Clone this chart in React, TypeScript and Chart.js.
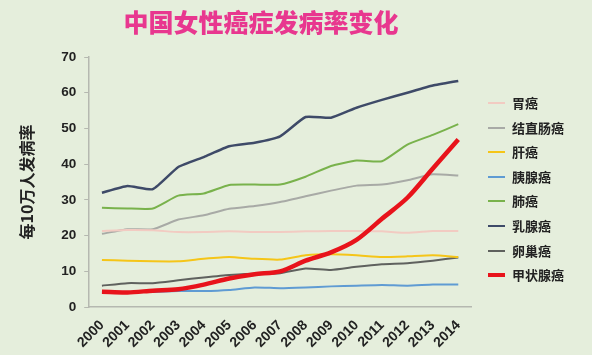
import React, { useEffect, useRef } from "react";
import { Chart, registerables } from "chart.js";

Chart.register(...registerables);

const years = ["2000","2001","2002","2003","2004","2005","2006","2007","2008","2009","2010","2011","2012","2013","2014"];
const yTicks = [0, 10, 20, 30, 40, 50, 60, 70];

const stomach = [21.3, 21.6, 21.5, 21.0, 21.0, 21.2, 21.0, 21.0, 21.2, 21.3, 21.3, 21.2, 20.8, 21.3, 21.3];
const colorectal = [20.5, 21.8, 21.8, 24.5, 25.7, 27.5, 28.3, 29.4, 31.0, 32.6, 34.0, 34.3, 35.5, 37.2, 36.8];
const liver = [13.2, 13.0, 12.8, 12.8, 13.5, 14.0, 13.5, 13.3, 14.5, 14.8, 14.5, 14.0, 14.2, 14.5, 14.0];
const pancreas = [4.2, 4.2, 4.2, 4.5, 4.5, 4.8, 5.5, 5.3, 5.5, 5.8, 6.0, 6.2, 6.0, 6.3, 6.3];
const lung = [27.8, 27.6, 27.6, 31.2, 31.8, 34.2, 34.3, 34.3, 36.5, 39.5, 41.0, 40.8, 45.5, 48.2, 51.2];
const breast = [32.0, 33.9, 33.0, 39.2, 42.0, 45.0, 46.0, 47.8, 53.2, 53.0, 55.8, 58.0, 60.0, 62.0, 63.3];
const ovary = [6.0, 6.7, 6.7, 7.5, 8.3, 9.0, 9.3, 9.5, 10.8, 10.4, 11.3, 12.0, 12.3, 13.0, 13.9];
const thyroid = [4.3, 4.1, 4.6, 5.0, 6.3, 8.0, 9.2, 10.0, 13.0, 15.3, 18.8, 24.7, 30.6, 38.8, 46.9];

const seriesNames = ["胃癌", "结直肠癌", "肝癌", "胰腺癌", "肺癌", "乳腺癌", "卵巢癌", "甲状腺癌"];
const seriesData = [stomach, colorectal, liver, pancreas, lung, breast, ovary, thyroid];
const seriesColors = ["#f2cbc2", "#a8aaa6", "#f5c518", "#5f9bd3", "#79b24c", "#3e4a68", "#5f615e", "#e8131b"];
const seriesWidths = [2, 2, 2, 2, 2, 2.5, 2, 4.5];

const BG = "#e5eedc";
const FONT = "'Liberation Sans', 'Noto Sans CJK SC', sans-serif";
const CJK = "'Noto Sans CJK SC', sans-serif";

export default function App() {
  const ref = useRef<HTMLCanvasElement>(null);

  useEffect(() => {
    document.body.style.margin = "0";
    const chart = new Chart(ref.current!, {
      type: "line",
      data: {
        labels: years,
        datasets: seriesNames.map((name, i) => ({
          label: name,
          data: seriesData[i],
          borderColor: seriesColors[i],
          backgroundColor: seriesColors[i],
          borderWidth: seriesWidths[i],
          pointRadius: 0,
          tension: i === 7 ? 0.3 : 0.15,
          fill: false,
          order: i === 7 ? -1 : i,
        })),
      },
      options: {
        animation: false,
        responsive: false,
        maintainAspectRatio: false,
        layout: { padding: { top: 57, left: 17, right: 121, bottom: 2 } },
        plugins: {
          title: { display: false },
          tooltip: { enabled: false },
          legend: { display: false },
        },
        scales: {
          x: {
            offset: true,
            grid: { display: false },
            border: { display: true, color: "#b5b8b0", width: 1.5 },
            ticks: {
              autoSkip: false,
              minRotation: 45,
              maxRotation: 45,
              color: "#222",
              padding: 2,
              font: { family: FONT, size: 14, weight: "bold" },
            },
          },
          y: {
            min: 0,
            max: 70,
            afterBuildTicks: (axis: any) => {
              axis.ticks = yTicks.map((v) => ({ value: v }));
            },
            grid: { drawOnChartArea: false, drawTicks: true, tickLength: 5, color: "#b5b8b0" },
            border: { display: true, color: "#b5b8b0", width: 1.5 },
            ticks: {
              color: "#222",
              padding: 8,
              font: { family: FONT, size: 13.5, weight: "bold" },
            },
            title: {
              display: true,
              text: "每10万人发病率",
              color: "#222",
              padding: { top: 0, bottom: 17 },
              font: { family: CJK, size: 16, weight: "bold" },
            },
          },
        },
      },
    });
    return () => chart.destroy();
  }, []);

  return (
    <div style={{ position: "relative", width: 592, height: 355, background: BG, overflow: "hidden" }}>
      <div
        style={{
          position: "absolute",
          top: 3,
          left: 0,
          width: 522,
          textAlign: "center",
          fontFamily: CJK,
          fontWeight: 900,
          fontSize: 25,
          color: "#e8378f",
          lineHeight: "36px",
        }}
      >
        中国女性癌症发病率变化
      </div>
      <canvas ref={ref} width={592} height={355} style={{ display: "block" }} />
      {seriesNames.map((name, i) => (
        <div
          key={name}
          style={{
            position: "absolute",
            left: 488,
            top: 103 + i * 24.6 - 10,
            height: 20,
            display: "flex",
            alignItems: "center",
          }}
        >
          <div
            style={{
              width: 17,
              height: i === 7 ? 4 : 2,
              background: seriesColors[i],
              marginRight: 7,
            }}
          />
          <span style={{ fontFamily: CJK, fontWeight: "bold", fontSize: 13, color: "#222", lineHeight: "20px" }}>
            {name}
          </span>
        </div>
      ))}
    </div>
  );
}
